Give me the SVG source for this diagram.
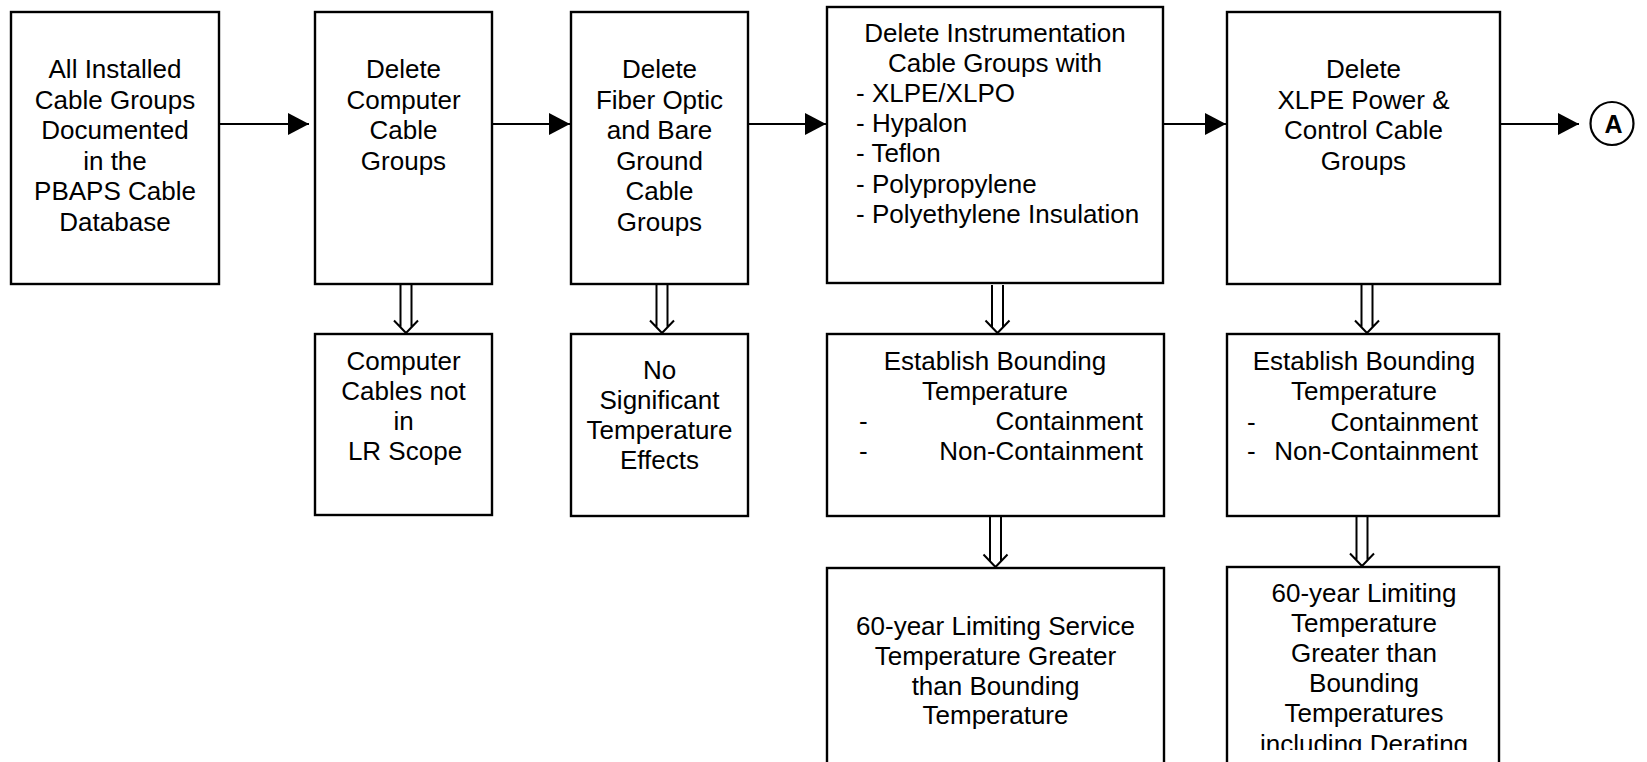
<svg xmlns="http://www.w3.org/2000/svg" width="1647" height="762" viewBox="0 0 1647 762">
<style>
.box{fill:#fff;stroke:#000;stroke-width:2.4}
.t{font-family:"Liberation Sans",Arial,Helvetica,sans-serif;font-size:26px;fill:#000}
.c{text-anchor:middle}
.e{text-anchor:end}
.conn{stroke:#000;stroke-width:2;fill:none}
.dbl{stroke:#000;stroke-width:2;fill:none}
</style>
<defs>
<marker id="ah" markerUnits="userSpaceOnUse" markerWidth="22" markerHeight="24" refX="21" refY="11" orient="auto">
<path d="M0,0 L21,11 L0,22 z" fill="#000"/>
</marker>
<clipPath id="clipB5"><rect x="1228" y="568" width="270" height="182"/></clipPath>
</defs>
<rect width="1647" height="762" fill="#fff"/>

<g id="connectors">
<line class="conn" x1="220" y1="124" x2="309" y2="124" marker-end="url(#ah)"/>
<line class="conn" x1="493" y1="124" x2="570" y2="124" marker-end="url(#ah)"/>
<line class="conn" x1="749" y1="124" x2="826" y2="124" marker-end="url(#ah)"/>
<line class="conn" x1="1164" y1="124" x2="1226" y2="124" marker-end="url(#ah)"/>
<line class="conn" x1="1501" y1="124" x2="1579" y2="124" marker-end="url(#ah)"/>
<path class="dbl" d="M400.5,285 V327 M411.5,285 V327 M394,320.5 L406,333 L418,320.5"/>
<path class="dbl" d="M656.5,285 V327 M667.5,285 V327 M650,320.5 L662,333 L674,320.5"/>
<path class="dbl" d="M992,285 V327 M1003,285 V327 M985.5,320.5 L997.5,333 L1009.5,320.5"/>
<path class="dbl" d="M1361.5,285 V327 M1372.5,285 V327 M1355,320.5 L1367,333 L1379,320.5"/>
<path class="dbl" d="M990,517 V561 M1001,517 V561 M983.5,554.5 L995.5,567 L1007.5,554.5"/>
<path class="dbl" d="M1356.5,517 V560 M1367.5,517 V560 M1350,553.5 L1362,566 L1374,553.5"/>
</g>

<g id="node-installed">
<rect class="box" x="11" y="12" width="208" height="272"/>
<text class="t c" x="115" y="78">All Installed</text>
<text class="t c" x="115" y="108.5">Cable Groups</text>
<text class="t c" x="115" y="139">Documented</text>
<text class="t c" x="115" y="169.5">in the</text>
<text class="t c" x="115" y="200">PBAPS Cable</text>
<text class="t c" x="115" y="230.5">Database</text>
</g>

<g id="node-del-computer">
<rect class="box" x="315" y="12" width="177" height="272"/>
<text class="t c" x="403.5" y="78">Delete</text>
<text class="t c" x="403.5" y="108.5">Computer</text>
<text class="t c" x="403.5" y="139">Cable</text>
<text class="t c" x="403.5" y="169.5">Groups</text>
</g>

<g id="node-del-fiber">
<rect class="box" x="571" y="12" width="177" height="272"/>
<text class="t c" x="659.5" y="78">Delete</text>
<text class="t c" x="659.5" y="108.5">Fiber Optic</text>
<text class="t c" x="659.5" y="139">and Bare</text>
<text class="t c" x="659.5" y="169.5">Ground</text>
<text class="t c" x="659.5" y="200">Cable</text>
<text class="t c" x="659.5" y="230.5">Groups</text>
</g>

<g id="node-del-instr">
<rect class="box" x="827" y="7" width="336" height="276"/>
<text class="t c" x="995" y="42">Delete Instrumentation</text>
<text class="t c" x="995" y="72">Cable Groups with</text>
<text class="t" x="856" y="102">- XLPE/XLPO</text>
<text class="t" x="856" y="132">- Hypalon</text>
<text class="t" x="856" y="162">- Teflon</text>
<text class="t" x="856" y="192.5">- Polypropylene</text>
<text class="t" x="856" y="223">- Polyethylene Insulation</text>
</g>

<g id="node-del-xlpe">
<rect class="box" x="1227" y="12" width="273" height="272"/>
<text class="t c" x="1363.5" y="78">Delete</text>
<text class="t c" x="1363.5" y="108.5">XLPE Power &amp;</text>
<text class="t c" x="1363.5" y="139">Control Cable</text>
<text class="t c" x="1363.5" y="169.5">Groups</text>
</g>

<g id="node-A">
<circle cx="1612" cy="123.5" r="21.5" fill="#fff" stroke="#000" stroke-width="2.2"/>
<text class="t c" x="1613.5" y="133" style="font-weight:bold;font-size:25px">A</text>
</g>

<g id="node-computer-scope">
<rect class="box" x="315" y="334" width="177" height="181"/>
<text class="t c" x="403.5" y="370">Computer</text>
<text class="t c" x="403.5" y="400">Cables not</text>
<text class="t c" x="403.5" y="430">in</text>
<text class="t c" x="405" y="460">LR Scope</text>
</g>

<g id="node-no-effects">
<rect class="box" x="571" y="334" width="177" height="182"/>
<text class="t c" x="659.5" y="378.5">No</text>
<text class="t c" x="659.5" y="408.5">Significant</text>
<text class="t c" x="659.5" y="438.5">Temperature</text>
<text class="t c" x="659.5" y="468.5">Effects</text>
</g>

<g id="node-bound-instr">
<rect class="box" x="827" y="334" width="337" height="182"/>
<text class="t c" x="995" y="370">Establish Bounding</text>
<text class="t c" x="995" y="399.5">Temperature</text>
<text class="t" x="859" y="430">-</text>
<text class="t e" x="1143" y="430">Containment</text>
<text class="t" x="859" y="459.5">-</text>
<text class="t e" x="1143" y="459.5">Non-Containment</text>
</g>

<g id="node-bound-xlpe">
<rect class="box" x="1227" y="334" width="272" height="182"/>
<text class="t c" x="1364" y="370">Establish Bounding</text>
<text class="t c" x="1364" y="400">Temperature</text>
<text class="t" x="1247" y="430.5">-</text>
<text class="t e" x="1478" y="430.5">Containment</text>
<text class="t" x="1247" y="460">-</text>
<text class="t e" x="1478" y="460">Non-Containment</text>
</g>

<g id="node-limit-instr">
<rect class="box" x="827" y="568" width="337" height="215"/>
<text class="t c" x="995.5" y="635">60-year Limiting Service</text>
<text class="t c" x="995.5" y="665">Temperature Greater</text>
<text class="t c" x="995.5" y="695">than Bounding</text>
<text class="t c" x="995.5" y="724">Temperature</text>
</g>

<g id="node-limit-xlpe">
<rect class="box" x="1227" y="567" width="272" height="216"/>
<g clip-path="url(#clipB5)">
<text class="t c" x="1364" y="602">60-year Limiting</text>
<text class="t c" x="1364" y="632">Temperature</text>
<text class="t c" x="1364" y="662">Greater than</text>
<text class="t c" x="1364" y="692">Bounding</text>
<text class="t c" x="1364" y="722">Temperatures</text>
<text class="t c" x="1364" y="753">including Derating</text>
</g>
</g>
</svg>
